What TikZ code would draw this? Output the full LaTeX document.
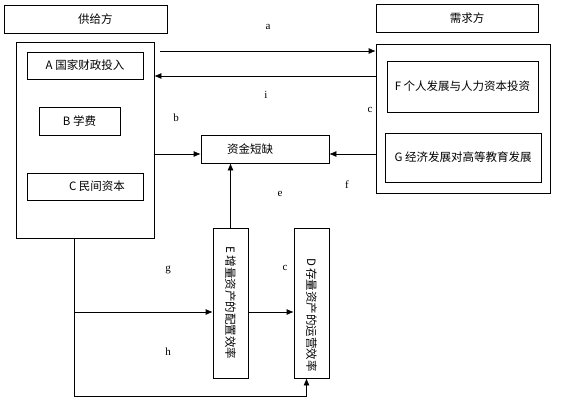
\documentclass[tikz,border=0pt]{standalone}
\usepackage{fontspec}
\newfontfamily\cjk{Noto Sans CJK SC}
\newfontfamily\lat{Liberation Serif}
\usetikzlibrary{positioning,arrows.meta}
\begin{document}
\begin{tikzpicture}[
x=1pt,y=-1pt,>={Latex[length=7pt,width=6pt]},
every path/.style={line width=0.7pt},
box/.style={draw,rectangle,inner sep=0pt,font=\cjk\fontsize{11.5}{13}\selectfont},
tag/.style={inner sep=0pt,font=\lat\fontsize{11}{12}\selectfont}
]
\useasboundingbox (0,0) rectangle (571,402);
% the two sides
\node[box,minimum width=163pt,minimum height=28pt] (supplyhead) at (85.5,19) {\hspace*{20pt}供给方};
\node[box,minimum width=162pt,minimum height=28pt] (demandhead) at (457,18) {\hspace*{20pt}需求方};
\node[box,minimum width=138pt,minimum height=196pt] (supply) at (85,140) {};
\node[box,minimum width=116pt,minimum height=27pt] (fin) at (85,65.5) {A 国家财政投入};
\node[box,minimum width=81pt,minimum height=28pt] (fee) at (79.5,121) {B 学费};
\node[box,minimum width=116pt,minimum height=27pt] (priv) at (85,186.5) {\hspace*{24pt}C 民间资本};
\node[box,minimum width=174pt,minimum height=149pt] (demand) at (463,118.5) {};
\node[box,minimum width=151pt,minimum height=51pt] (pers) at (462.5,86.5) {F 个人发展与人力资本投资};
\node[box,minimum width=156pt,minimum height=49pt] (econ) at (463,157.5) {G 经济发展对高等教育发展};
% shortage and efficiency
\node[box,minimum width=128pt,minimum height=28pt] (short) at (265,149) {资金短缺\hspace*{30pt}};
\node[box,rotate=-90,minimum width=150pt,minimum height=35pt] (incr) at (230.5,303) {E 增量资产的配置效率};
\node[box,rotate=-90,minimum width=150pt,minimum height=35pt] (store) at (311.5,303) {\hspace*{24pt}D 存量资产的运营效率};
% free ends
\coordinate (a1) at (160,51);
\coordinate (i1) at (376,76);
\coordinate (sl) at ([yshift=-5pt]short.west);
\coordinate (sr) at ([yshift=-5pt]short.east);
\coordinate (s0) at ([xshift=-11pt]supply.south);
\coordinate (mid) at (0,312);
\coordinate (low) at (0,396);
% connectors
\draw[->] (a1) -- (a1 -| demand.west);
\draw[->] (i1) -- (i1 -| supply.east);
\draw[->] (supply.east |- sl) -- (sl);
\draw[->] (demand.west |- sr) -- (sr);
\draw[->] (incr.west) -- (incr.west |- short.south);
\draw[->] (s0 |- mid) -- (mid -| incr.south);
\draw[->] (incr.north |- mid) -- (mid -| store.south);
\draw[->] (s0) -- (s0 |- low) -| ([xshift=-5pt]store.east);
% letters
\node[tag] (la) at (268,27) {a};
\node[tag] (li) at (266,95) {i};
\node[tag] (lb) at (176,118) {b};
\node[tag] (lc) at (370,110) {c};
\node[tag] (le) at (280,194) {e};
\node[tag] (lf) at (347,185) {f};
\node[tag] (lg) at (168,270) {g};
\node[tag] (ld) at (285,268) {c};
\node[tag] (lh) at (168,352) {h};
\end{tikzpicture}
\end{document}
